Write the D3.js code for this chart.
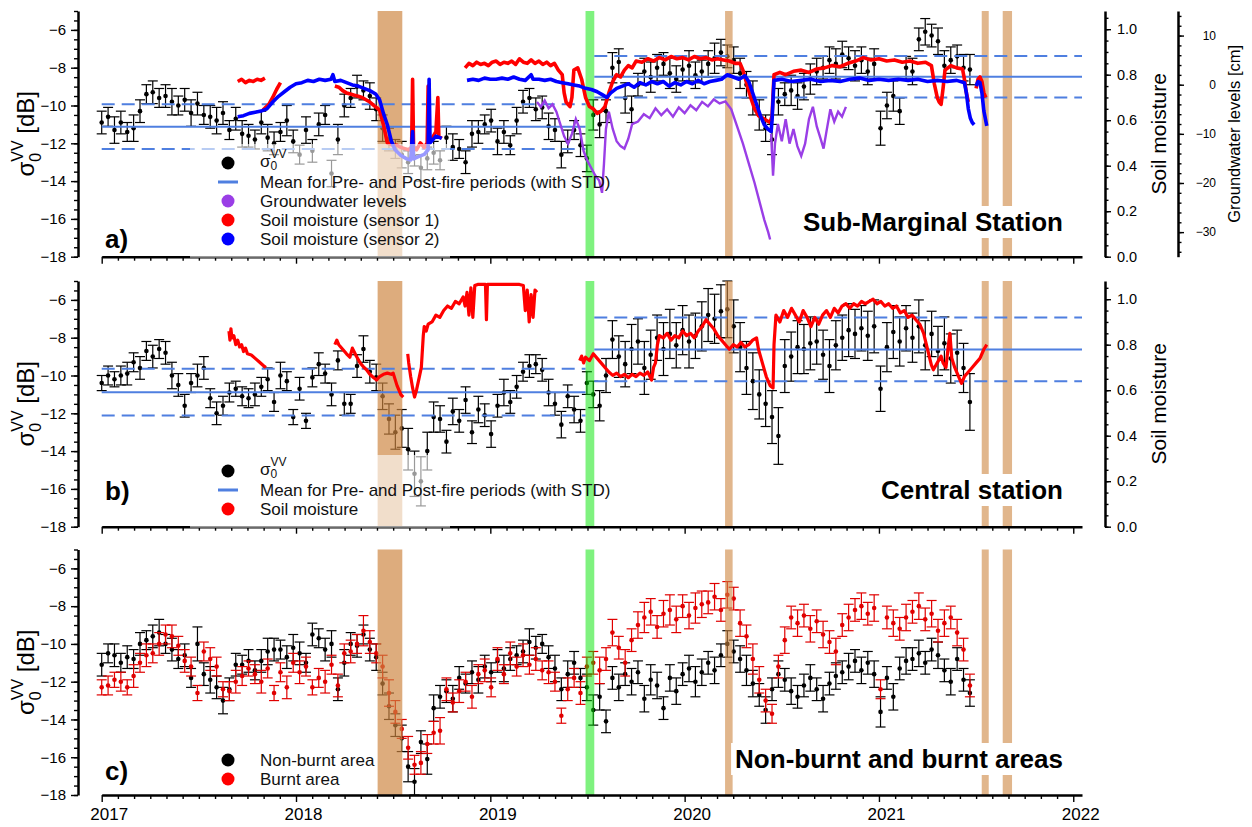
<!DOCTYPE html>
<html>
<head>
<meta charset="utf-8">
<script src="https://d3js.org/d3.v7.min.js"></script>
<style>
  body { margin: 0; background: #fff; }
  svg text { font-family: "Liberation Sans", Arial, Helvetica, sans-serif; }
</style>
</head>
<body>
<svg id="chart" width="1252" height="827"></svg>
<script>
// ---- data ----
// Sentinel-1 acquisitions, one every 12 days from Jan 2017
const acqDates = d3.range(137).map(i => 2017 + i * 12 / 365.25);

// a) Sub-Marginal station, sigma0 VV [dB] and std
const sigA = [
  -10.9,-10.6,-11.3,-10.9,-11.4,-11.2, -10.3,-9.4,-9.3,-9.6,-9.5,-9.8, -10.0,-9.7,-10.4,-9.9,
  -10.5,-10.6,-10.8,-10.4,-11.3,-10.7, -11.5,-11.6,-11.8,-10.9,-11.7,-12.0,-11.4,-10.8,-11.9,
  -12.6,-11.3,-12.4,-11.0,-10.5,-13.6, -11.8,-10.0,-9.6, -9.0,-9.2,-9.5,-10.2, -11.2,-11.8,-12.3,-12.6,
  -13.0,-12.7,-13.3,-12.8,-12.5,-12.9, -11.7,-12.2,-12.3,-13.0,-11.5,-11.4, -11.0,-10.8,-11.9,-11.4,-12.1,-10.8,
  -9.8,-9.6,-10.2,-10.1, -11.1,-11.3,-12.6,-11.9,-11.3,-12.1, -12.8,-10.5,-11.0,-10.3, -8.0,-7.7,-9.6,-10.2,
  -8.9,-8.2,-8.5,-8.0,-7.8,-8.3,-8.6,-8.1,-7.9,-8.4,-8.2, -7.8,-7.5,-7.2,-7.4,-7.6, -8.3,-8.9,-9.6,-10.5,-11.2,
  -11.8,-9.8,-9.4,-9.2,-9.5, -9.0,-8.6,-8.2,-8.0,-7.6,-7.8,-7.3,-7.5,-7.9,-7.6,-8.2,-7.8,
  -11.2,-10.0,-9.5,-10.3,-8.0, -8.2,-6.5,-6.1,-6.3,-6.6, -7.9,-7.6,-7.4,-8.0,-8.1
];
const stdA = [
  0.6,0.5,0.7,0.6,0.5,0.7,0.6,0.5,0.6,0.5, 0.6,0.7,0.5,0.6,0.7,0.6,0.5,0.6,0.7,0.6,
  0.5,0.6,0.7,0.6,0.5,0.6,0.7,0.6,0.5,0.8, 0.6,0.5,0.7,0.6,0.6,0.5,0.7,0.8,0.6,0.5,
  0.6,0.5,0.7,0.6,0.7,0.6,0.5,0.7,0.6,0.5, 0.7,0.6,0.6,0.5,0.6,0.7,0.5,0.6,0.7,0.6,
  0.5,0.6,0.7,0.6,0.5,0.7,0.6,0.5,0.6,0.6, 0.7,0.6,0.7,0.6,0.5,0.6,0.7,0.8,0.7,0.6,
  0.8,0.7,0.8,0.7,0.6,0.7,0.8,0.7,0.6,0.8, 0.7,0.6,0.8,0.7,0.6,0.7,0.8,0.7,0.6,0.7,
  0.8,0.7,0.9,0.8,0.7,0.8,0.7,0.6,0.8,0.7, 0.7,0.8,0.7,0.6,0.7,0.8,0.7,0.6,0.8,0.7,
  0.7,0.8,0.9,0.7,0.8,0.7,0.6,0.7,0.6,0.7, 0.6,0.7,0.8,0.7,0.6,0.7,0.8
];

// b) Central station
const sigB = [
  -10.4,-10.0,-10.2,-10.0,-9.9,-9.3, -9.6,-8.7,-9.0,-8.6,-8.8,-10.0, -10.5,-11.6,-10.4,-10.0,
  -9.6,-11.2,-12.0,-11.6,-10.9,-10.7, -11.1,-11.2,-11.0,-10.6,-10.2,-11.4,-10.0,-10.3,-12.2,
  -10.7,-12.4,-10.1,-9.4,-9.9,-11.0, -9.2,-11.5,-11.5, -9.5,-8.6,-9.8,-10.1, -11.1,-12.3,-13.0,-12.8,
  -13.9,-15.2,-15.6,-14.0,-12.2,-12.3, -13.5,-11.9,-12.4,-11.3,-13.0,-11.8, -12.1,-13.1,-11.6,-10.9,-11.4,-10.6,
  -9.8,-9.5,-9.4,-9.7, -10.9,-11.5,-12.6,-11.1,-11.8,-12.4, -10.4,-11.0,-11.6,-10.0, -8.1,-9.0,-9.4,-8.6,
  -8.2,-9.6,-8.9,-8.0,-8.6,-7.8,-8.4,-7.6,-8.2,-7.9,-7.4, -6.8,-7.0,-6.6,-6.5,-7.4, -8.5,-9.6,-10.3,-11.0,-11.5,
  -12.2,-13.2,-9.5,-9.0,-8.5, -8.6,-8.3,-8.2,-8.9,-9.5,-8.4,-8.0,-7.6,-7.8,-7.5,-7.9,-7.4,
  -10.7,-8.5,-7.7,-8.2,-7.5, -8.0,-7.4,-8.4,-7.8,-8.7, -8.3,-9.1,-8.8,-9.6,-11.4
];
const stdB = [
  0.4,0.5,0.4,0.5,0.6,0.5,0.6,0.5,0.6,0.5, 0.6,0.7,0.6,0.6,0.5,0.6,0.6,0.5,0.6,0.5,
  0.5,0.4,0.5,0.5,0.6,0.5,0.6,0.5,0.7,0.5, 0.4,0.6,0.4,0.5,0.6,0.5,0.6,0.5,0.6,0.5,
  0.6,0.7,0.6,0.7,0.7,0.8,0.9,1.0,1.1,1.2, 1.3,1.0,0.8,0.7,0.6,0.7,0.6,0.7,0.6,0.7,
  0.6,0.7,0.6,0.7,0.6,0.6,0.5,0.6,0.5,0.6, 0.7,0.6,0.7,0.6,0.7,0.6,0.6,0.7,0.8,0.9,
  1.0,1.1,1.2,1.3,1.2,1.4,1.3,1.2,1.4,1.3, 1.2,1.3,1.4,1.2,1.3,1.4,1.3,1.4,1.5,1.4,
  1.3,1.4,1.5,1.3,1.2,1.4,1.5,1.4,1.3,1.4, 1.3,1.4,1.2,1.3,1.4,1.3,1.2,1.4,1.3,1.2,
  1.3,1.4,1.2,1.3,1.4,1.3,1.2,1.3,1.4,1.3, 1.2,1.3,1.4,1.3,1.2,1.3,1.5
];

// c) non-burnt and burnt areas
const sigNonBurnt = [
  -11.1,-10.5,-10.6,-11.0,-10.7,-10.8, -10.0,-9.8,-9.6,-9.4,-10.0,-10.3, -10.8,-10.6,-11.8,-10.0,
  -11.6,-11.9,-12.3,-13.0,-12.4,-11.1, -11.1,-10.9,-11.4,-10.9,-10.4,-10.3,-10.3,-10.7,-10.2,
  -10.5,-11.0,-9.5,-9.7,-10.3,-10.0, -12.4,-11.0,-10.0, -10.1,-9.5,-10.3,-10.7, -12.1,-13.3,-14.3,-15.0,
  -16.5,-17.3,-15.2,-16.1,-13.4,-12.8, -12.5,-12.9,-11.8,-12.1,-11.5,-11.9, -11.2,-11.5,-10.9,-11.3,-10.8,-10.6,
  -10.4,-9.9,-10.2,-10.0, -10.7,-11.3,-12.4,-11.6,-11.0,-11.8, -12.3,-13.5,-12.8,-14.1, -11.8,-12.3,-11.6,-12.0,
  -11.5,-12.9,-11.9,-12.2,-13.4,-11.8,-12.5,-11.6,-11.3,-12.0,-11.5, -11.0,-11.4,-10.6,-10.0,-10.4, -10.8,-11.4,-12.1,-12.7,-13.5,
  -12.4,-11.6,-11.9,-12.5,-12.8, -12.2,-11.8,-12.4,-12.9,-12.1,-11.7,-11.5,-11.2,-10.9,-11.4,-11.0,-11.6,
  -13.6,-11.8,-12.8,-11.3,-10.9, -10.8,-10.5,-11.0,-10.3,-10.6, -11.4,-12.0,-10.8,-11.9,-12.6
];
const stdNonBurnt = [
  0.6,0.5,0.6,0.5,0.6,0.5,0.6,0.5,0.6,0.7, 0.5,0.6,0.5,0.6,0.5,0.9,0.6,0.7,0.6,0.7,
  0.6,0.6,0.5,0.6,0.5,0.6,0.7,0.6,0.5,0.6, 0.7,0.6,0.5,0.6,0.5,0.6,0.7,0.6,0.7,0.6,
  0.6,0.5,0.6,0.7,0.6,0.7,0.6,0.7,0.8,0.7, 0.6,0.8,0.7,0.6,0.6,0.7,0.6,0.5,0.6,0.7,
  0.6,0.5,0.6,0.7,0.6,0.5,0.6,0.7,0.6,0.5, 0.6,0.7,0.6,0.7,0.6,0.5,0.7,0.8,0.7,0.6,
  0.6,0.7,0.6,0.7,0.6,0.7,0.8,0.7,0.6,0.7, 0.7,0.6,0.7,0.8,0.7,0.6,0.7,0.6,0.7,0.6,
  0.7,0.8,0.7,0.6,0.7,0.6,0.7,0.6,0.7,0.6, 0.6,0.7,0.6,0.7,0.6,0.7,0.6,0.7,0.6,0.7,
  0.6,0.7,0.8,0.6,0.7,0.6,0.7,0.6,0.7,0.6, 0.6,0.7,0.6,0.7,0.6,0.6,0.7
];
const sigBurnt = [
  -12.3,-12.2,-11.9,-12.0,-12.3,-11.7, -11.0,-10.6,-10.5,-10.0,-9.5,-9.6, -10.1,-10.9,-11.2,-12.6,
  -10.4,-10.8,-11.2,-12.4,-12.5,-12.0, -11.7,-11.3,-11.6,-12.0,-11.3,-12.6,-11.5,-12.3,-11.0,
  -11.5,-11.2,-12.3,-11.8,-12.0,-11.1, -12.2,-10.5,-10.4, -10.0,-9.3,-9.9,-10.5, -11.2,-12.6,-13.6,-14.5,
  -15.5,-16.4,-16.3,-15.3,-14.7,-14.6, -12.4,-13.1,-12.5,-12.0,-12.8,-11.6, -11.4,-12.3,-10.8,-11.6,-10.5,-11.2,
  -10.6,-11.1,-10.8,-11.4, -11.5,-12.0,-13.8,-12.4,-11.8,-12.6, -11.2,-11.0,-11.4,-10.8, -9.4,-10.2,-11.0,-9.8,
  -9.0,-8.6,-8.3,-9.1,-8.4,-8.2,-8.7,-8.0,-8.5,-8.1,-7.9, -7.8,-7.5,-8.2,-7.4,-7.6, -8.9,-9.6,-10.8,-11.9,-13.0,
  -13.7,-11.2,-9.8,-8.6,-8.9, -8.5,-9.2,-8.8,-9.5,-9.9,-10.4,-9.0,-8.6,-8.2,-8.0,-8.4,-8.1,
  -12.4,-8.6,-8.9,-9.2,-8.6, -8.3,-8.0,-8.7,-8.4,-9.3, -8.9,-8.6,-9.4,-10.3,-12.2
];
const stdBurnt = [
  0.4,0.5,0.4,0.5,0.4,0.6,0.5,0.6,0.5,0.6, 0.5,0.6,0.5,0.6,0.5,0.4,0.5,0.6,0.5,0.4,
  0.5,0.6,0.5,0.4,0.5,0.6,0.5,0.4,0.5,0.6, 0.5,0.6,0.5,0.4,0.5,0.6,0.5,0.6,0.5,0.6,
  0.5,0.8,0.6,0.5,0.6,0.7,0.6,0.5,0.6,0.5, 0.6,0.5,0.6,0.7,0.6,0.5,0.6,0.5,0.6,0.5,
  0.6,0.5,0.6,0.5,0.6,0.5,0.6,0.5,0.6,0.5, 0.6,0.5,0.4,0.6,0.5,0.6,0.5,0.6,0.7,0.6,
  0.7,0.6,0.7,0.6,0.7,0.8,0.7,0.6,0.7,0.8, 0.7,0.6,0.7,0.8,0.7,0.6,0.7,0.6,0.7,0.6,
  0.7,0.6,0.8,0.7,0.6,0.5,0.6,0.7,0.6,0.7, 0.6,0.7,0.6,0.7,0.6,0.7,0.6,0.7,0.6,0.7,
  0.6,0.7,0.5,0.6,0.7,0.6,0.7,0.6,0.7,0.6, 0.7,0.6,0.7,0.6,0.7,0.6,0.6
];

// pre / post fire means and std, panels a and b
const preMean = [-11.12, -10.88];
const preStd = [1.18, 1.24];
const postMean = [-8.48, -8.62];
const postStd = [1.10, 1.69];
const preEnd = 2019.49, postStart = 2019.535;

// fire events (brown) and green marker, decimal years
const fireBands = [[2018.42, 2018.547], [2020.208, 2020.247], [2021.529, 2021.565], [2021.637, 2021.685]];
const greenBand = [2019.49, 2019.535];

// soil moisture, Sub-Marginal station sensor 1 [year, value]; null = gap
const smA1 = [
  [2017.70,0.77],[2017.72,0.78],[2017.74,0.765],[2017.76,0.775],[2017.78,0.77],[2017.80,0.78],[2017.82,0.775],[2017.84,0.785],
  null,
  [2017.83,0.645],[2017.86,0.67],[2017.88,0.70],[2017.90,0.735],[2017.92,0.765],
  null,
  [2018.20,0.75],[2018.22,0.745],[2018.24,0.73],[2018.26,0.72],[2018.28,0.715],[2018.30,0.71],[2018.32,0.705],[2018.34,0.70],
  [2018.36,0.69],[2018.38,0.68],[2018.40,0.665],[2018.43,0.645],[2018.45,0.58],[2018.47,0.50],[2018.50,0.49],[2018.52,0.49],
  [2018.54,0.48],[2018.56,0.475],[2018.58,0.47],[2018.595,0.48],[2018.60,0.78],[2018.605,0.48],[2018.62,0.47],[2018.64,0.50],
  [2018.66,0.48],[2018.675,0.50],[2018.68,0.75],[2018.685,0.50],[2018.70,0.52],[2018.72,0.55],[2018.73,0.70],[2018.735,0.53],[2018.75,0.52],
  null,
  [2018.87,0.83],[2018.89,0.85],[2018.91,0.84],[2018.93,0.855],[2018.95,0.845],[2018.97,0.85],[2018.99,0.84],[2019.01,0.855],
  [2019.03,0.86],[2019.05,0.845],[2019.07,0.855],[2019.09,0.85],[2019.11,0.86],[2019.13,0.845],[2019.15,0.87],[2019.17,0.855],
  [2019.19,0.85],[2019.21,0.865],[2019.23,0.85],[2019.25,0.86],[2019.27,0.845],[2019.29,0.855],[2019.31,0.84],[2019.33,0.85],
  [2019.35,0.82],[2019.37,0.80],[2019.38,0.72],[2019.39,0.68],[2019.41,0.66],[2019.42,0.70],[2019.43,0.82],[2019.45,0.83],
  [2019.47,0.78],[2019.49,0.70],[2019.51,0.66],[2019.53,0.65],[2019.55,0.63],[2019.57,0.64],[2019.59,0.66],[2019.61,0.72],
  [2019.63,0.77],[2019.65,0.80],[2019.67,0.79],[2019.69,0.82],[2019.71,0.84],[2019.73,0.83],[2019.75,0.86],[2019.78,0.855],
  [2019.81,0.87],[2019.84,0.86],[2019.87,0.875],[2019.90,0.865],[2019.93,0.88],[2019.96,0.87],[2019.99,0.875],[2020.02,0.865],
  [2020.05,0.88],[2020.08,0.87],[2020.11,0.875],[2020.14,0.865],[2020.17,0.87],[2020.20,0.865],[2020.23,0.86],[2020.26,0.85],
  [2020.285,0.85],[2020.30,0.82],[2020.32,0.76],[2020.34,0.70],[2020.36,0.65],[2020.38,0.62],[2020.40,0.61],[2020.42,0.60],
  [2020.44,0.59],[2020.45,0.62],[2020.46,0.80],[2020.49,0.81],[2020.52,0.80],[2020.56,0.815],[2020.60,0.82],[2020.64,0.81],
  [2020.68,0.825],[2020.72,0.83],[2020.76,0.84],[2020.80,0.835],[2020.84,0.85],[2020.88,0.86],[2020.92,0.875],[2020.96,0.865],
  [2021.00,0.87],[2021.04,0.86],[2021.08,0.865],[2021.12,0.855],[2021.16,0.86],[2021.20,0.85],[2021.24,0.855],[2021.27,0.84],
  [2021.285,0.76],[2021.30,0.70],[2021.31,0.68],[2021.32,0.67],[2021.33,0.74],[2021.34,0.82],[2021.37,0.84],[2021.40,0.83],
  [2021.43,0.825],[2021.44,0.78],[2021.45,0.72],[2021.46,0.68],
  null,
  [2021.50,0.74],[2021.51,0.78],[2021.52,0.79],[2021.53,0.77],[2021.54,0.72],[2021.55,0.70]
];

// soil moisture, Sub-Marginal station sensor 2
const smA2 = [
  [2017.70,0.615],[2017.73,0.62],[2017.76,0.63],[2017.79,0.635],[2017.82,0.64],[2017.85,0.65],[2017.88,0.68],[2017.91,0.705],
  [2017.94,0.725],[2017.97,0.745],[2018.00,0.76],[2018.03,0.765],[2018.06,0.775],[2018.09,0.77],[2018.12,0.78],[2018.15,0.775],
  [2018.18,0.78],[2018.19,0.80],[2018.20,0.77],[2018.23,0.775],[2018.26,0.765],[2018.29,0.755],[2018.32,0.75],[2018.35,0.74],
  [2018.38,0.73],[2018.41,0.715],[2018.43,0.69],[2018.45,0.63],[2018.47,0.58],[2018.49,0.51],[2018.51,0.47],[2018.54,0.445],
  [2018.57,0.43],[2018.59,0.425],[2018.60,0.55],[2018.605,0.43],[2018.63,0.44],[2018.66,0.45],[2018.68,0.47],[2018.685,0.78],
  [2018.69,0.50],[2018.72,0.53],[2018.75,0.52],
  null,
  [2018.88,0.775],[2018.91,0.78],[2018.94,0.775],[2018.97,0.785],[2019.00,0.78],[2019.03,0.78],[2019.06,0.785],[2019.09,0.78],
  [2019.12,0.79],[2019.15,0.78],[2019.18,0.775],[2019.21,0.80],[2019.22,0.78],[2019.25,0.78],[2019.28,0.775],[2019.31,0.78],
  [2019.34,0.77],[2019.37,0.765],[2019.40,0.76],[2019.43,0.755],[2019.46,0.75],[2019.49,0.74],[2019.52,0.735],[2019.55,0.725],
  [2019.58,0.71],[2019.60,0.70],[2019.62,0.72],[2019.65,0.74],[2019.68,0.75],[2019.71,0.76],[2019.74,0.745],[2019.77,0.765],
  [2019.80,0.755],[2019.83,0.77],[2019.86,0.76],[2019.89,0.77],[2019.92,0.75],[2019.95,0.765],[2019.98,0.755],[2020.01,0.77],
  [2020.04,0.76],[2020.07,0.775],[2020.10,0.76],[2020.13,0.77],[2020.16,0.775],[2020.19,0.78],[2020.22,0.80],[2020.25,0.79],
  [2020.28,0.78],[2020.31,0.795],[2020.33,0.77],[2020.35,0.72],[2020.37,0.67],[2020.39,0.62],[2020.41,0.58],[2020.43,0.56],
  [2020.445,0.55],[2020.45,0.60],[2020.46,0.775],[2020.50,0.78],[2020.55,0.77],[2020.60,0.775],[2020.65,0.78],[2020.70,0.77],
  [2020.75,0.775],[2020.80,0.77],[2020.85,0.78],[2020.90,0.785],[2020.95,0.775],[2021.00,0.78],[2021.05,0.775],[2021.10,0.78],
  [2021.15,0.775],[2021.20,0.78],[2021.25,0.77],[2021.30,0.775],[2021.35,0.77],[2021.40,0.775],[2021.44,0.765],[2021.45,0.72],
  [2021.46,0.65],[2021.47,0.61],[2021.48,0.59],[2021.49,0.58],
  null,
  [2021.50,0.75],[2021.51,0.77],[2021.52,0.765],[2021.53,0.72],[2021.54,0.64],[2021.555,0.575]
];

// groundwater levels [cm], Sub-Marginal station
const gwA = [
  [2019.24,-3.5],[2019.26,-4.5],[2019.28,-3.2],[2019.30,-4.8],[2019.32,-4.0],[2019.34,-5.5],[2019.36,-8.0],[2019.38,-10.5],
  [2019.40,-12.0],[2019.42,-10.0],[2019.44,-7.0],[2019.46,-9.0],[2019.48,-13.5],[2019.50,-15.5],[2019.52,-17.0],[2019.54,-18.5],
  [2019.56,-19.5],[2019.575,-22.0],[2019.585,-16.0],[2019.595,-9.0],[2019.61,-5.5],[2019.63,-9.0],[2019.65,-11.5],[2019.67,-12.5],
  [2019.69,-13.0],[2019.71,-11.0],[2019.73,-8.0],[2019.76,-7.5],[2019.79,-6.0],[2019.82,-6.8],[2019.85,-4.8],[2019.88,-6.2],
  [2019.91,-5.0],[2019.94,-6.5],[2019.97,-4.6],[2020.00,-5.8],[2020.03,-4.2],[2020.06,-5.2],[2020.09,-3.5],[2020.12,-4.4],
  [2020.15,-3.0],[2020.18,-3.8],[2020.21,-3.4],[2020.24,-5.0],[2020.27,-8.5],[2020.30,-12.0],[2020.33,-16.0],[2020.36,-20.0],
  [2020.39,-24.5],[2020.41,-27.5],[2020.43,-30.0],[2020.44,-31.5],
  null,
  [2020.445,-10.0],[2020.455,-18.5],[2020.465,-12.0],[2020.48,-8.0],[2020.50,-11.5],[2020.52,-7.0],[2020.54,-12.0],[2020.56,-9.0],
  [2020.58,-12.5],[2020.60,-14.5],[2020.62,-12.0],[2020.64,-7.0],[2020.66,-4.5],[2020.68,-8.5],[2020.70,-11.0],[2020.715,-13.0],
  [2020.73,-9.5],[2020.75,-5.0],[2020.77,-7.5],[2020.79,-5.5],[2020.81,-6.5],[2020.83,-4.5]
];

// soil moisture, Central station
const smB = [
  [2017.655,0.86],[2017.66,0.82],[2017.665,0.87],[2017.67,0.83],[2017.68,0.84],[2017.69,0.80],[2017.70,0.82],[2017.71,0.79],
  [2017.72,0.80],[2017.73,0.77],[2017.74,0.785],[2017.75,0.76],[2017.77,0.755],[2017.79,0.74],[2017.81,0.725],[2017.83,0.71],[2017.845,0.70],
  null,
  [2018.20,0.80],[2018.21,0.82],[2018.22,0.80],[2018.24,0.78],[2018.26,0.76],[2018.277,0.745],[2018.29,0.785],[2018.31,0.75],
  [2018.33,0.72],[2018.35,0.70],[2018.363,0.69],[2018.38,0.67],[2018.40,0.655],[2018.415,0.645],[2018.43,0.66],[2018.45,0.67],
  [2018.47,0.675],[2018.49,0.67],[2018.50,0.675],[2018.52,0.62],[2018.54,0.58],[2018.552,0.57],
  null,
  [2018.575,0.76],[2018.58,0.72],[2018.59,0.66],[2018.60,0.61],[2018.61,0.57],[2018.62,0.60],[2018.635,0.66],[2018.645,0.70],
  [2018.655,0.84],[2018.66,0.88],[2018.67,0.86],[2018.68,0.89],[2018.70,0.90],[2018.72,0.93],[2018.74,0.92],[2018.76,0.95],
  [2018.78,0.97],[2018.80,0.96],[2018.82,0.99],[2018.84,0.98],[2018.86,1.01],[2018.87,0.97],[2018.88,1.03],[2018.89,0.93],
  [2018.90,1.05],[2018.91,0.92],[2018.92,1.06],[2018.935,1.065],[2018.96,1.065],[2018.975,1.065],[2018.98,0.91],[2018.985,1.065],
  [2019.05,1.065],[2019.10,1.065],[2019.15,1.065],[2019.17,1.06],[2019.18,0.95],[2019.19,1.04],[2019.20,0.90],[2019.21,1.02],
  [2019.22,0.92],[2019.23,1.04],[2019.24,1.03],
  null,
  [2019.46,0.73],[2019.47,0.75],[2019.48,0.72],[2019.49,0.745],[2019.51,0.73],[2019.53,0.76],[2019.55,0.74],[2019.57,0.72],
  [2019.59,0.70],[2019.61,0.68],[2019.63,0.665],[2019.65,0.675],[2019.67,0.66],[2019.69,0.67],[2019.71,0.655],[2019.73,0.67],
  [2019.75,0.66],[2019.77,0.675],[2019.79,0.665],[2019.81,0.68],[2019.83,0.645],[2019.84,0.70],[2019.85,0.72],[2019.86,0.80],
  [2019.87,0.84],[2019.89,0.83],[2019.91,0.85],[2019.93,0.82],[2019.95,0.84],[2019.97,0.83],[2019.99,0.86],[2020.01,0.84],
  [2020.03,0.85],[2020.05,0.83],[2020.07,0.86],[2020.09,0.88],[2020.11,0.91],[2020.13,0.89],[2020.15,0.87],[2020.17,0.84],
  [2020.19,0.82],[2020.21,0.80],[2020.23,0.78],[2020.25,0.80],[2020.27,0.79],[2020.29,0.81],[2020.31,0.79],[2020.33,0.80],
  [2020.35,0.82],[2020.37,0.83],[2020.38,0.78],[2020.40,0.72],[2020.42,0.66],[2020.44,0.62],[2020.455,0.61],[2020.46,0.80],
  [2020.47,0.93],[2020.49,0.90],[2020.51,0.95],[2020.53,0.92],[2020.55,0.96],[2020.57,0.93],[2020.59,0.90],[2020.61,0.95],
  [2020.63,0.92],[2020.65,0.88],[2020.67,0.92],[2020.69,0.89],[2020.71,0.93],[2020.73,0.95],[2020.75,0.92],[2020.77,0.96],
  [2020.79,0.94],[2020.81,0.97],[2020.83,0.98],[2020.85,0.96],[2020.87,0.98],[2020.89,0.97],[2020.91,0.99],[2020.93,0.98],
  [2020.95,0.99],[2020.97,1.00],[2020.99,0.98],[2021.01,0.99],[2021.03,0.97],[2021.05,0.98],[2021.07,0.96],[2021.09,0.97],
  [2021.11,0.94],[2021.13,0.95],[2021.15,0.92],[2021.17,0.93],[2021.19,0.91],[2021.21,0.89],[2021.23,0.85],[2021.25,0.78],
  [2021.27,0.71],[2021.28,0.69],[2021.30,0.72],[2021.32,0.75],[2021.33,0.72],[2021.345,0.70],[2021.355,0.78],[2021.365,0.85],
  [2021.375,0.74],[2021.39,0.70],[2021.41,0.66],[2021.425,0.63],[2021.44,0.66],[2021.46,0.68],[2021.48,0.70],[2021.50,0.72],
  [2021.52,0.74],[2021.54,0.78],[2021.555,0.80]
];

// ---- layout ----
const svg = d3.select("#chart");
const x = d3.scaleLinear().domain([2017, 2022.045]).range([101.7, 1082]);

const geo = [
  { top: 11, bottom: 256.7 },
  { top: 281, bottom: 526.7 },
  { top: 549.5, bottom: 795 }
];
geo.forEach(p => {
  p.y = d3.scaleLinear().domain([-18, -5]).range([p.bottom, p.top]);
  p.sm = d3.scaleLinear().domain([0, 1.08]).range([p.bottom, p.top]);
});
const gwY = d3.scaleLinear().domain([-35, 15]).range([geo[0].bottom, geo[0].top]);

const meanBlue = "#4f7fe0";
const gwPurple = "#9a3ee6";

const lineGen = ys => d3.line().defined(d => d !== null).x(d => x(d[0])).y(d => ys(d[1]));

function errorBars(g, y, vals, stds, color) {
  const pts = vals.map((v, i) => ({ t: acqDates[i], v: v, s: stds[i] }));
  const bars = g.append("g").attr("stroke", color).attr("stroke-width", 1.2)
    .selectAll("g").data(pts).join("g");
  bars.append("line")
    .attr("x1", d => x(d.t)).attr("x2", d => x(d.t))
    .attr("y1", d => y(d.v - d.s)).attr("y2", d => y(d.v + d.s));
  [-1, 1].forEach(k => {
    bars.append("line")
      .attr("x1", d => x(d.t) - 5).attr("x2", d => x(d.t) + 5)
      .attr("y1", d => y(d.v + k * d.s)).attr("y2", d => y(d.v + k * d.s));
  });
  g.append("g").selectAll("circle").data(pts).join("circle")
    .attr("cx", d => x(d.t)).attr("cy", d => y(d.v)).attr("r", 2.3).attr("fill", color);
}

function bands(g, p) {
  fireBands.forEach((b, i) => {
    g.append("rect")
      .attr("x", x(b[0])).attr("width", x(b[1]) - x(b[0]))
      .attr("y", p.top).attr("height", p.bottom - p.top)
      .attr("fill", "#cd853f").attr("opacity", i === 0 ? 0.68 : 0.6);
  });
  g.append("rect")
    .attr("x", x(greenBand[0])).attr("width", x(greenBand[1]) - x(greenBand[0]))
    .attr("y", p.top).attr("height", p.bottom - p.top)
    .attr("fill", "#00e600").attr("opacity", 0.5);
}

function meanLines(g, p, k) {
  const segs = [[2017, preEnd, preMean[k], preStd[k]], [postStart, 2022.045, postMean[k], postStd[k]]];
  segs.forEach(s => {
    [[s[2], null], [s[2] + s[3], "13,7"], [s[2] - s[3], "13,7"]].forEach(l => {
      g.append("line")
        .attr("x1", x(s[0])).attr("x2", x(s[1]))
        .attr("y1", p.y(l[0])).attr("y2", p.y(l[0]))
        .attr("stroke", meanBlue).attr("stroke-width", 2)
        .attr("stroke-dasharray", l[1]);
    });
  });
}

// sigma_0^VV with sub- and superscript stacked
function sigmaText(t, size, small, sub, sup) {
  t.append("tspan").text("σ");
  t.append("tspan").attr("font-size", small).attr("dy", size * sub).text("0");
  t.append("tspan").attr("font-size", small).attr("dx", -small * 0.556).attr("dy", -size * (sub + sup)).text("VV");
}

function axes(g, p, showYears) {
  const yearTicks = [2017, 2018, 2019, 2020, 2021, 2022];
  const monthTicks = d3.range(1, 61).filter(i => i % 12 !== 0).map(i => 2017 + i / 12);
  const xa = g.append("g").attr("transform", `translate(0,${p.bottom})`)
    .call(d3.axisBottom(x).tickValues(yearTicks).tickSize(7).tickSizeOuter(0).tickPadding(6)
      .tickFormat(showYears ? d3.format("d") : ""));
  xa.attr("font-size", 17).attr("font-family", null);
  xa.selectAll("text").attr("dx", 7);
  const xm = g.append("g").attr("transform", `translate(0,${p.bottom})`)
    .call(d3.axisBottom(x).tickValues(monthTicks).tickSize(4).tickFormat(""));
  xm.select(".domain").remove();

  const ya = g.append("g").attr("transform", "translate(78,0)")
    .call(d3.axisLeft(p.y).tickValues([-18, -16, -14, -12, -10, -8, -6]).tickSize(7).tickSizeOuter(0).tickPadding(5));
  ya.attr("font-size", 15).attr("font-family", null);
  g.append("g").attr("transform", "translate(78,0)")
    .call(d3.axisLeft(p.y).tickValues(d3.range(-18, -4.9, 0.5)).tickSize(4).tickFormat(""))
    .select(".domain").remove();

  const yl = g.append("text")
    .attr("transform", `translate(34,${(p.top + p.bottom) / 2}) rotate(-90)`)
    .attr("text-anchor", "middle").attr("font-size", 24);
  sigmaText(yl, 24, 16, 0.28, 0.46);
  yl.append("tspan").attr("dy", 24 * 0.46).text(" [dB]");
}

function smAxis(g, p) {
  const a = g.append("g").attr("transform", "translate(1105,0)")
    .call(d3.axisRight(p.sm).tickValues([0, 0.2, 0.4, 0.6, 0.8, 1.0]).tickSize(6).tickSizeOuter(0)
      .tickPadding(6).tickFormat(d3.format(".1f")));
  a.attr("font-size", 14.5).attr("font-family", null);
  g.append("g").attr("transform", "translate(1105,0)")
    .call(d3.axisRight(p.sm).tickValues(d3.range(0, 1.06, 0.05)).tickSize(3.5).tickFormat(""))
    .select(".domain").remove();
  g.append("text")
    .attr("transform", `translate(1166,${(p.top + p.bottom) / 2}) rotate(-90)`)
    .attr("text-anchor", "middle").attr("font-size", 21).text("Soil moisture");
}

function legend(g, rows, y0) {
  rows.forEach((r, i) => {
    const cy = y0 + i * 19;
    if (r.kind === "line") {
      g.append("line").attr("x1", 218).attr("x2", 238).attr("y1", cy).attr("y2", cy)
        .attr("stroke", r.color).attr("stroke-width", 3);
    } else {
      g.append("circle").attr("cx", 228).attr("cy", cy).attr("r", 6.5).attr("fill", r.color);
    }
    const t = g.append("text").attr("x", 260).attr("y", cy + 6).attr("font-size", 17).attr("fill", "#111");
    if (r.sigma) {
      t.attr("y", cy + 4);
      sigmaText(t, 17, 12, 0.18, 0.52);
    } else t.text(r.label);
  });
}

function stationLabel(g, txt, baseline) {
  const box = g.append("rect").attr("fill", "#fff");
  const t = g.append("text").attr("x", 1063).attr("y", baseline)
    .attr("text-anchor", "end").attr("font-size", 26).attr("font-weight", "bold").text(txt);
  const bb = t.node().getBBox();
  box.attr("x", bb.x - 4).attr("y", bb.y - 1).attr("width", bb.width + 8).attr("height", bb.height + 2);
}

function fade(g, p, yTop) {
  g.append("rect").attr("x", 190).attr("y", yTop).attr("width", 260).attr("height", p.bottom + 1 - yTop)
    .attr("fill", "#fff").attr("opacity", 0.6);
}

// ---- panel a ----
{
  const p = geo[0];
  const g = svg.append("g");
  errorBars(g, p.y, sigA, stdA, "#000");
  bands(g, p);
  meanLines(g, p, 0);
  g.append("path").datum(gwA).attr("d", lineGen(gwY)).attr("fill", "none")
    .attr("stroke", gwPurple).attr("stroke-width", 2.4);
  g.append("path").datum(smA1).attr("d", lineGen(p.sm)).attr("fill", "none")
    .attr("stroke", "#ff0000").attr("stroke-width", 3.6).attr("stroke-linejoin", "round");
  g.append("path").datum(smA2).attr("d", lineGen(p.sm)).attr("fill", "none")
    .attr("stroke", "#0000ff").attr("stroke-width", 3.6).attr("stroke-linejoin", "round");
  axes(g, p, false);
  smAxis(g, p);
  const ga = g.append("g").attr("transform", "translate(1178,0)")
    .call(d3.axisRight(gwY).tickValues([-30, -20, -10, 0, 10]).tickSize(6).tickSizeOuter(0));
  ga.attr("font-size", 12).attr("font-family", null);
  ga.selectAll("text").attr("text-anchor", "end").attr("x", 38);
  g.append("g").attr("transform", "translate(1178,0)")
    .call(d3.axisRight(gwY).tickValues(d3.range(-34, 15, 2)).tickSize(3.5).tickFormat(""))
    .select(".domain").remove();
  g.append("text").attr("transform", `translate(1240,${(p.top + p.bottom) / 2}) rotate(-90)`)
    .attr("text-anchor", "middle").attr("font-size", 16.5).text("Groundwater levels [cm]");
  fade(g, p, 144);
  legend(g, [
    { kind: "dot", color: "#000", sigma: true },
    { kind: "line", color: meanBlue, label: "Mean for Pre- and Post-fire periods (with STD)" },
    { kind: "dot", color: gwPurple, label: "Groundwater levels" },
    { kind: "dot", color: "#ff0000", label: "Soil moisture (sensor 1)" },
    { kind: "dot", color: "#0000ff", label: "Soil moisture (sensor 2)" }
  ], 163);
  stationLabel(g, "Sub-Marginal Station", 231);
  g.append("text").attr("x", 105).attr("y", 248).attr("font-size", 26).attr("font-weight", "bold").text("a)");
}

// ---- panel b ----
{
  const p = geo[1];
  const g = svg.append("g");
  errorBars(g, p.y, sigB, stdB, "#000");
  bands(g, p);
  meanLines(g, p, 1);
  g.append("path").datum(smB).attr("d", lineGen(p.sm)).attr("fill", "none")
    .attr("stroke", "#ff0000").attr("stroke-width", 3.2).attr("stroke-linejoin", "round");
  axes(g, p, false);
  smAxis(g, p);
  fade(g, p, 455);
  legend(g, [
    { kind: "dot", color: "#000", sigma: true },
    { kind: "line", color: meanBlue, label: "Mean for Pre- and Post-fire periods (with STD)" },
    { kind: "dot", color: "#ff0000", label: "Soil moisture" }
  ], 471);
  stationLabel(g, "Central station", 499);
  g.append("text").attr("x", 105).attr("y", 500).attr("font-size", 26).attr("font-weight", "bold").text("b)");
}

// ---- panel c ----
{
  const p = geo[2];
  const g = svg.append("g");
  errorBars(g, p.y, sigNonBurnt, stdNonBurnt, "#000");
  errorBars(g, p.y, sigBurnt, stdBurnt, "#e00000");
  bands(g, p);
  axes(g, p, true);
  legend(g, [
    { kind: "dot", color: "#000", label: "Non-burnt area" },
    { kind: "dot", color: "#ff0000", label: "Burnt area" }
  ], 760);
  stationLabel(g, "Non-burnt and burnt areas", 768);
  g.append("text").attr("x", 105).attr("y", 780).attr("font-size", 26).attr("font-weight", "bold").text("c)");
}

svg.selectAll(".domain").attr("stroke-width", 2.5);
svg.selectAll(".tick line").attr("stroke-width", 1.4);
</script>
</body>
</html>
